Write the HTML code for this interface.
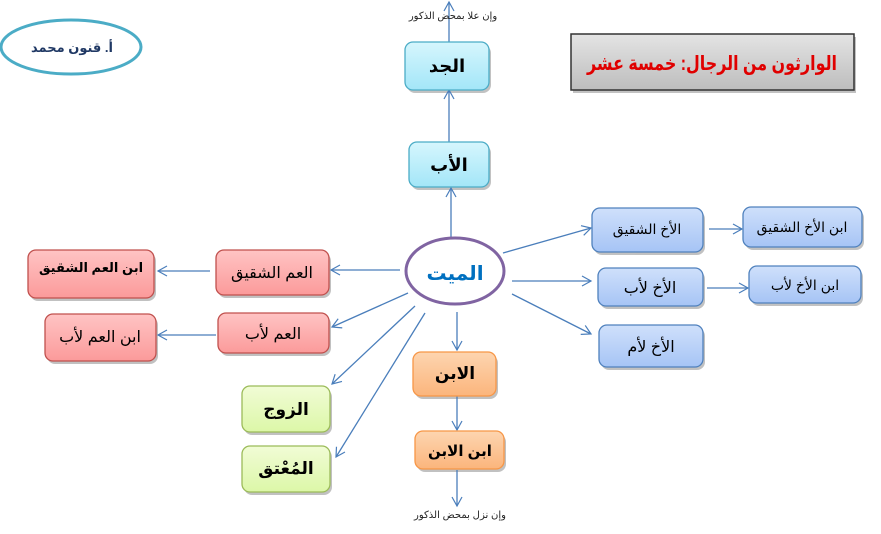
<!DOCTYPE html>
<html><head><meta charset="utf-8"><style>
html,body{margin:0;padding:0;background:#fff;}
svg{display:block;font-family:"Liberation Sans","DejaVu Sans",sans-serif;}
</style></head><body>
<svg width="881" height="534" viewBox="0 0 881 534" xmlns="http://www.w3.org/2000/svg">
<defs>
<linearGradient id="cy" x1="0" y1="0" x2="0" y2="1"><stop offset="0" stop-color="#d6f6fd"/><stop offset="1" stop-color="#a3e6f8"/></linearGradient>
<linearGradient id="rd" x1="0" y1="0" x2="0" y2="1"><stop offset="0" stop-color="#ffc4c4"/><stop offset="1" stop-color="#fb9a9a"/></linearGradient>
<linearGradient id="gr" x1="0" y1="0" x2="0" y2="1"><stop offset="0" stop-color="#f1fcd6"/><stop offset="1" stop-color="#dcf7a8"/></linearGradient>
<linearGradient id="or" x1="0" y1="0" x2="0" y2="1"><stop offset="0" stop-color="#fdd5b0"/><stop offset="1" stop-color="#fbb57c"/></linearGradient>
<linearGradient id="bl" x1="0" y1="0" x2="0" y2="1"><stop offset="0" stop-color="#cfe0fb"/><stop offset="1" stop-color="#a6c4f5"/></linearGradient>
<linearGradient id="gy" x1="0" y1="0" x2="0" y2="1"><stop offset="0" stop-color="#e4e4e4"/><stop offset="1" stop-color="#bdbdbd"/></linearGradient>
<marker id="ar" markerWidth="12" markerHeight="12" refX="10" refY="6" orient="auto" markerUnits="userSpaceOnUse"><path d="M1,1 L10,6 L1,11" fill="none" stroke="#4a7ebb" stroke-width="1.2"/></marker>
</defs>
<g fill="#999" opacity="0.6">
<rect x="407" y="45" width="84" height="48" rx="8"/><rect x="411" y="145" width="80" height="45" rx="8"/>
<rect x="218" y="253" width="113" height="45" rx="8"/><rect x="30" y="253" width="126" height="48" rx="8"/>
<rect x="220" y="316" width="111" height="40" rx="8"/><rect x="47" y="317" width="111" height="47" rx="8"/>
<rect x="244" y="389" width="88" height="46" rx="8"/><rect x="244" y="449" width="88" height="46" rx="8"/>
<rect x="415" y="355" width="83" height="44" rx="8"/><rect x="417" y="434" width="89" height="38" rx="8"/>
<rect x="594" y="211" width="111" height="44" rx="8"/><rect x="745" y="210" width="119" height="40" rx="8"/>
<rect x="600" y="271" width="105" height="38" rx="8"/><rect x="751" y="269" width="112" height="37" rx="8"/>
<rect x="601" y="328" width="104" height="42" rx="8"/><rect x="573" y="37" width="283" height="56"/>
</g>
<rect x="571" y="34" width="283" height="56" fill="url(#gy)" stroke="#333" stroke-width="1.5"/>
<text x="712" y="70" text-anchor="middle" font-size="20" font-weight="bold" fill="#e00000" textLength="250" lengthAdjust="spacingAndGlyphs">الوارثون  من الرجال: خمسة عشر</text>
<ellipse cx="71" cy="47" rx="70" ry="27" fill="#fff" stroke="#4bacc6" stroke-width="3"/>
<text x="72" y="52" text-anchor="middle" font-size="13" font-weight="bold" fill="#1f3864">أ. قنون محمد</text>
<g stroke="#4a7ebb" stroke-width="1.3" fill="none" marker-end="url(#ar)">
<line x1="449" y1="42" x2="449" y2="2"/>
<line x1="449" y1="142" x2="449" y2="90"/>
<line x1="451" y1="238" x2="451" y2="188"/>
<line x1="400" y1="270" x2="331" y2="270"/>
<line x1="210" y1="271" x2="158" y2="271"/>
<line x1="408" y1="293" x2="332" y2="327"/>
<line x1="216" y1="335" x2="158" y2="335"/>
<line x1="415" y1="306" x2="332" y2="384"/>
<line x1="425" y1="313" x2="336" y2="457"/>
<line x1="457" y1="312" x2="457" y2="350"/>
<line x1="457" y1="396" x2="457" y2="430"/>
<line x1="457" y1="470" x2="457" y2="506"/>
<line x1="503" y1="253" x2="591" y2="228"/>
<line x1="512" y1="281" x2="591" y2="281"/>
<line x1="512" y1="294" x2="591" y2="334"/>
<line x1="709" y1="229" x2="742" y2="229"/>
<line x1="707" y1="288" x2="748" y2="288"/>
</g>
<text x="453" y="19" text-anchor="middle" font-size="10" fill="#222">وإن علا بمحض الذكور</text>
<text x="460" y="518" text-anchor="middle" font-size="10" fill="#222">وإن نزل بمحض الذكور</text>
<ellipse cx="455" cy="271" rx="49" ry="33" fill="#fff" stroke="#8064a2" stroke-width="3"/>
<text x="455" y="280" text-anchor="middle" font-size="20" font-weight="bold" fill="#0070c0">الميت</text>
<g stroke-width="1.3">
<rect x="405" y="42" width="84" height="48" rx="8" fill="url(#cy)" stroke="#4bacc6"/>
<rect x="409" y="142" width="80" height="45" rx="8" fill="url(#cy)" stroke="#4bacc6"/>
<rect x="216" y="250" width="113" height="45" rx="8" fill="url(#rd)" stroke="#c0504d"/>
<rect x="28" y="250" width="126" height="48" rx="8" fill="url(#rd)" stroke="#c0504d"/>
<rect x="218" y="313" width="111" height="40" rx="8" fill="url(#rd)" stroke="#c0504d"/>
<rect x="45" y="314" width="111" height="47" rx="8" fill="url(#rd)" stroke="#c0504d"/>
<rect x="242" y="386" width="88" height="46" rx="8" fill="url(#gr)" stroke="#9bbb59"/>
<rect x="242" y="446" width="88" height="46" rx="8" fill="url(#gr)" stroke="#9bbb59"/>
<rect x="413" y="352" width="83" height="44" rx="8" fill="url(#or)" stroke="#f79646"/>
<rect x="415" y="431" width="89" height="38" rx="8" fill="url(#or)" stroke="#f79646"/>
<rect x="592" y="208" width="111" height="44" rx="8" fill="url(#bl)" stroke="#4f81bd"/>
<rect x="743" y="207" width="119" height="40" rx="8" fill="url(#bl)" stroke="#4f81bd"/>
<rect x="598" y="268" width="105" height="38" rx="8" fill="url(#bl)" stroke="#4f81bd"/>
<rect x="749" y="266" width="112" height="37" rx="8" fill="url(#bl)" stroke="#4f81bd"/>
<rect x="599" y="325" width="104" height="42" rx="8" fill="url(#bl)" stroke="#4f81bd"/>
</g>
<g text-anchor="middle" fill="#000">
<text x="447" y="72" font-size="18" font-weight="bold">الجد</text>
<text x="449" y="171" font-size="18" font-weight="bold">الأب</text>
<text x="272" y="278" font-size="16">العم الشقيق</text>
<text x="91" y="272" font-size="13" font-weight="bold">ابن العم الشقيق</text>
<text x="273" y="339" font-size="16">العم لأب</text>
<text x="100" y="342" font-size="16">ابن العم لأب</text>
<text x="286" y="415" font-size="17" font-weight="bold">الزوج</text>
<text x="286" y="474" font-size="17" font-weight="bold">المُعْتق</text>
<text x="455" y="379" font-size="17" font-weight="bold">الابن</text>
<text x="460" y="456" font-size="15" font-weight="bold">ابن الابن</text>
<text x="647" y="234" font-size="14">الأخ الشقيق</text>
<text x="802" y="232" font-size="14">ابن الأخ الشقيق</text>
<text x="650" y="293" font-size="16">الأخ لأب</text>
<text x="805" y="290" font-size="14">ابن الأخ لأب</text>
<text x="651" y="352" font-size="16">الأخ لأم</text>
</g>
</svg>
</body></html>
